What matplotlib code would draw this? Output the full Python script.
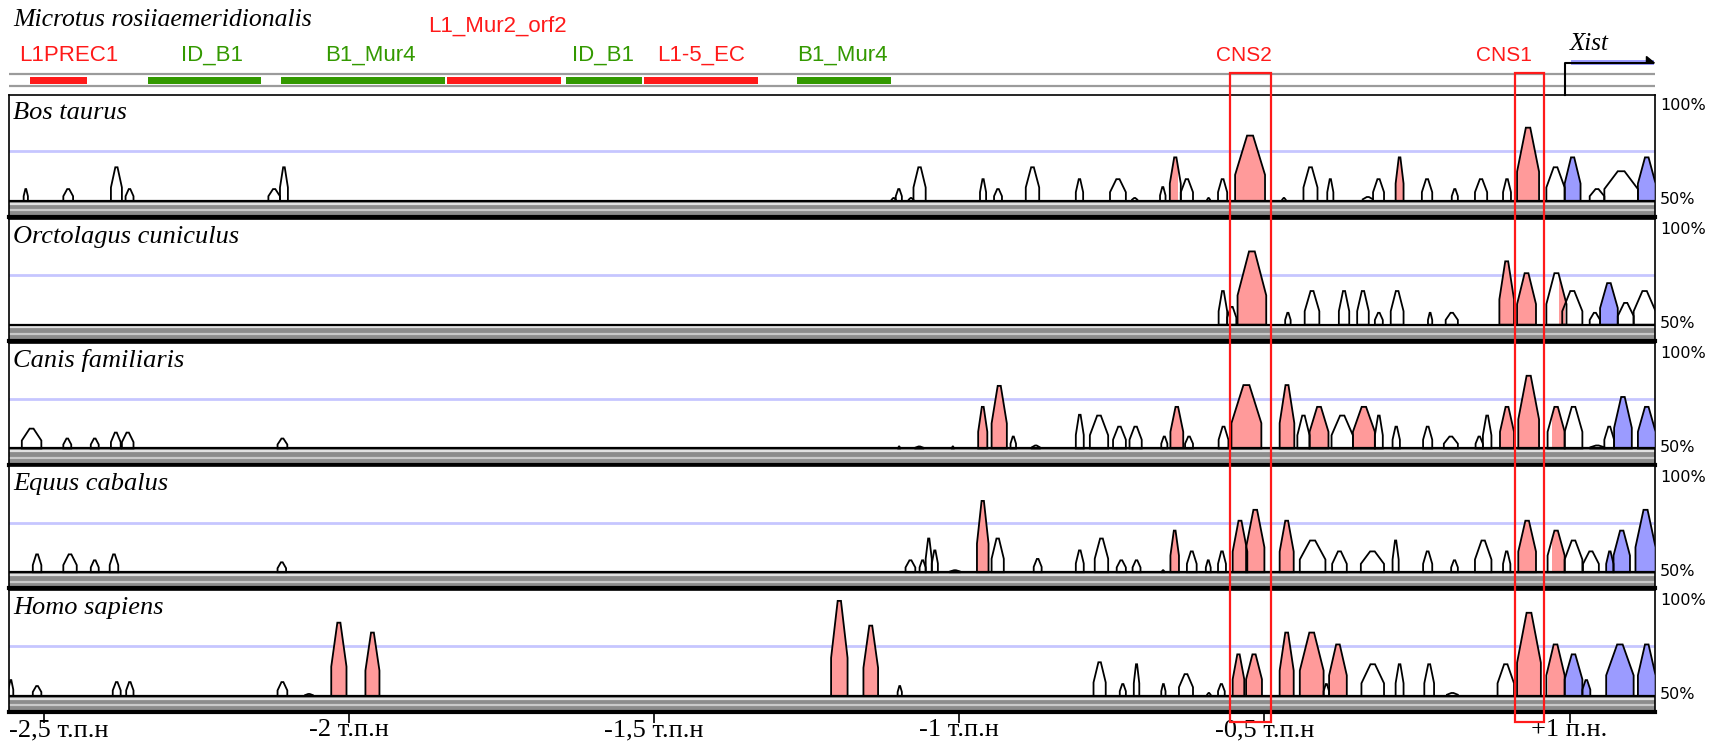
import matplotlib
matplotlib.use('Agg')
import matplotlib.pyplot as plt
from matplotlib.patches import Polygon, Rectangle
import matplotlib.transforms as mtransforms

# ---- data (positions in kb relative to Xist +1, heights in % identity) ----
species = ['Bos taurus', 'Orctolagus cuniculus', 'Canis familiaris',
           'Equus cabalus', 'Homo sapiens']

bos_peaks = [(-2.533, -2.526, 56), (-2.468, -2.452, 56), (-2.390, -2.372, 67), (-2.366, -2.353, 56),
             (-2.132, -2.113, 56), (-2.113, -2.100, 67), (-1.111, -1.104, 51.5), (-1.104, -1.094, 56),
             (-1.083, -1.075, 51.5), (-1.075, -1.055, 67), (-0.966, -0.956, 61), (-0.943, -0.930, 56),
             (-0.891, -0.869, 67), (-0.809, -0.797, 61), (-0.753, -0.727, 61), (-0.717, -0.708, 51.5),
             (-0.671, -0.662, 57), (-0.655, -0.637, 72), (-0.637, -0.617, 61), (-0.594, -0.589, 51.5),
             (-0.576, -0.561, 61), (-0.548, -0.499, 83), (-0.471, -0.465, 51.5), (-0.436, -0.413, 67),
             (-0.397, -0.387, 61), (-0.339, -0.322, 52), (-0.322, -0.304, 61), (-0.285, -0.272, 72),
             (-0.242, -0.225, 61), (-0.193, -0.183, 56), (-0.155, -0.135, 61), (-0.109, -0.096, 61),
             (-0.086, -0.050, 87), (-0.038, -0.008, 67), (-0.008, 0.018, 72), (0.033, 0.057, 56),
             (0.057, 0.112, 65), (0.112, 0.141, 72)]
bos_pink = [(-0.655, -0.641), (-0.546, -0.500), (-0.285, -0.272), (-0.085, -0.051)]
bos_blue = [(-0.008, 0.017), (0.113, 0.141)]

ory_peaks = [(-0.575, -0.561, 67), (-0.561, -0.546, 59), (-0.544, -0.497, 87), (-0.466, -0.457, 56),
             (-0.434, -0.410, 67), (-0.378, -0.361, 67), (-0.348, -0.329, 67), (-0.319, -0.306, 56),
             (-0.293, -0.272, 67), (-0.232, -0.225, 56), (-0.203, -0.183, 56), (-0.115, -0.091, 82),
             (-0.086, -0.055, 76), (-0.038, -0.005, 76), (-0.012, 0.021, 67), (0.033, 0.050, 56),
             (0.050, 0.079, 71), (0.079, 0.105, 61), (0.105, 0.141, 67)]
ory_pink = [(-0.544, -0.497), (-0.115, -0.091), (-0.086, -0.055), (-0.018, -0.008)]
ory_blue = [(0.050, 0.079)]

can_peaks = [(-2.536, -2.504, 60), (-2.468, -2.455, 55), (-2.423, -2.410, 55), (-2.390, -2.374, 58),
             (-2.372, -2.353, 58), (-2.117, -2.101, 55), (-1.100, -1.097, 51), (-1.072, -1.059, 51),
             (-1.012, -1.009, 51), (-0.969, -0.954, 71), (-0.947, -0.922, 81.6), (-0.916, -0.907, 56),
             (-0.881, -0.868, 51.5), (-0.809, -0.796, 67), (-0.786, -0.756, 66.6), (-0.748, -0.727, 61),
             (-0.721, -0.701, 61), (-0.669, -0.659, 56), (-0.654, -0.633, 71), (-0.630, -0.617, 56),
             (-0.575, -0.559, 61), (-0.554, -0.505, 82), (-0.475, -0.451, 82), (-0.446, -0.426, 66.6),
             (-0.426, -0.395, 71), (-0.390, -0.355, 66.6), (-0.355, -0.319, 71), (-0.319, -0.306, 66.6),
             (-0.290, -0.278, 61), (-0.240, -0.225, 61), (-0.206, -0.183, 56), (-0.154, -0.142, 56),
             (-0.142, -0.128, 66.6), (-0.114, -0.091, 71), (-0.084, -0.050, 86.7), (-0.036, -0.008, 71),
             (-0.008, 0.021, 71), (0.034, 0.057, 51.5), (0.057, 0.073, 61), (0.073, 0.102, 76),
             (0.112, 0.141, 71)]
can_pink = [(-0.969, -0.954), (-0.947, -0.922), (-0.654, -0.633), (-0.554, -0.505), (-0.475, -0.451),
            (-0.426, -0.395), (-0.355, -0.319), (-0.114, -0.091), (-0.084, -0.050), (-0.028, -0.008)]
can_blue = [(0.073, 0.102), (0.112, 0.141)]

equ_peaks = [(-2.518, -2.504, 59), (-2.468, -2.446, 59), (-2.423, -2.410, 56), (-2.392, -2.378, 59),
             (-2.117, -2.103, 55), (-1.088, -1.072, 56), (-1.065, -1.055, 56), (-1.055, -1.045, 67),
             (-1.045, -1.035, 61), (-1.015, -0.999, 51), (-0.971, -0.952, 86), (-0.947, -0.927, 67),
             (-0.878, -0.865, 56.7), (-0.809, -0.796, 61), (-0.778, -0.756, 67), (-0.742, -0.727, 56),
             (-0.716, -0.703, 56), (-0.668, -0.664, 51), (-0.654, -0.640, 71), (-0.627, -0.611, 60.5),
             (-0.596, -0.588, 56), (-0.576, -0.563, 60.5), (-0.552, -0.528, 76), (-0.530, -0.500, 81.5),
             (-0.475, -0.452, 76), (-0.442, -0.400, 66), (-0.389, -0.365, 60.5), (-0.342, -0.304, 60.5),
             (-0.290, -0.280, 66), (-0.240, -0.225, 60.5), (-0.194, -0.183, 56), (-0.155, -0.128, 66),
             (-0.109, -0.097, 60.5), (-0.084, -0.055, 76), (-0.036, -0.008, 71), (-0.008, 0.021, 66),
             (0.022, 0.048, 60.5), (0.060, 0.072, 60.5), (0.072, 0.099, 71), (0.108, 0.141, 81.5)]
equ_pink = [(-0.971, -0.952), (-0.654, -0.640), (-0.552, -0.500), (-0.475, -0.452), (-0.084, -0.055),
            (-0.028, -0.008)]
equ_blue = [(0.060, 0.099), (0.108, 0.141)]

hom_peaks = [(-2.558, -2.550, 58), (-2.518, -2.504, 55), (-2.387, -2.374, 57), (-2.365, -2.353, 57),
             (-2.117, -2.101, 57), (-2.072, -2.059, 51), (-2.029, -2.004, 87), (-1.973, -1.950, 82),
             (-1.210, -1.183, 98), (-1.157, -1.133, 85.5), (-1.101, -1.094, 55), (-0.780, -0.760, 67),
             (-0.737, -0.727, 56), (-0.714, -0.705, 66), (-0.669, -0.662, 56), (-0.640, -0.617, 61),
             (-0.594, -0.588, 51.5), (-0.576, -0.565, 56), (-0.552, -0.533, 71), (-0.530, -0.504, 71),
             (-0.475, -0.452, 82), (-0.442, -0.403, 82), (-0.403, -0.394, 56), (-0.394, -0.365, 76),
             (-0.341, -0.304, 66), (-0.285, -0.272, 66), (-0.238, -0.222, 66), (-0.201, -0.183, 51.5),
             (-0.118, -0.091, 66), (-0.086, -0.047, 92), (-0.038, -0.008, 76), (-0.008, 0.021, 71),
             (0.021, 0.034, 58), (0.060, 0.105, 76), (0.112, 0.141, 76)]
hom_pink = [(-2.029, -2.004), (-1.973, -1.950), (-1.210, -1.183), (-1.157, -1.133), (-0.552, -0.533),
            (-0.530, -0.504), (-0.475, -0.452), (-0.442, -0.403), (-0.394, -0.365), (-0.086, -0.047),
            (-0.036, -0.008)]
hom_blue = [(-0.008, 0.034), (0.060, 0.105), (0.112, 0.141)]

all_peaks = [bos_peaks, ory_peaks, can_peaks, equ_peaks, hom_peaks]
all_pink = [bos_pink, ory_pink, can_pink, equ_pink, hom_pink]
all_blue = [bos_blue, ory_blue, can_blue, equ_blue, hom_blue]

# repeats in the Microtus sequence
rep_names = ['L1PREC1', 'ID_B1', 'B1_Mur4', 'L1_Mur2_orf2', 'ID_B1', 'L1-5_EC', 'B1_Mur4']
rep_start = [-2.523, -2.329, -2.111, -1.840, -1.645, -1.516, -1.266]
rep_end = [-2.429, -2.144, -1.843, -1.652, -1.520, -1.330, -1.112]
rep_type = ['LINE', 'SINE', 'SINE', 'LINE', 'SINE', 'LINE', 'SINE']
rep_label_x = [-2.459, -2.225, -1.965, -1.757, -1.584, -1.423, -1.191]

cns_names = ['CNS2', 'CNS1']
cns_start = [-0.556, -0.090]
cns_end = [-0.489, -0.042]
cns_label_x = [-0.534, -0.108]

tick_pos = [-2.5, -2.0, -1.5, -1.0, -0.5, 0.0]
tick_lab = ['-2,5 т.п.н', '-2 т.п.н', '-1,5 т.п.н', '-1 т.п.н', '-0,5 т.п.н', '+1 п.н.']

# ---- style ----
W, H = 1721, 753
xlim = (-2.557, 0.140)
PINK = '#ff9a9a'
BLUE = '#9b9bff'
RED = '#ff1a1a'
GREEN = '#339900'
serif = ['Liberation Serif', 'DejaVu Serif']
sans = ['Liberation Sans', 'DejaVu Sans']

fig = plt.figure(figsize=(W / 100, H / 100), dpi=100)


def px_rect(left, top, width, height):
    return [left / W, 1 - (top + height) / H, width / W, height / H]


def peak_shape(s, e, h):
    w = e - s
    k = 50 + 0.4 * (h - 50)
    return [(s, 50), (s, k), (s + 0.4 * w, h), (e - 0.4 * w, h), (e, k), (e, 50)]


axes = []
for i, name in enumerate(species):
    ax = fig.add_axes(px_rect(9, 95 + 123.75 * i, 1646, 122))
    ax.set_xlim(xlim)
    ax.set_ylim(41.9, 103.5)
    ax.set_xticks([])
    ax.set_yticks([])
    for sp in ax.spines.values():
        sp.set_linewidth(1.2)
    ax.spines['bottom'].set_linewidth(3)

    # grey band under baseline
    ax.axhspan(41.9, 50, color='#8c8c8c', lw=0, zorder=1)
    ax.axhline(48.6, color='#e2e2e2', lw=1.6, zorder=1)
    ax.axhline(45.2, color='#c9c9c9', lw=1.6, zorder=1)
    ax.axhline(75, color='#c6c6ff', lw=2, zorder=1)

    polys = []
    for s, e, h in all_peaks[i]:
        p = Polygon(peak_shape(s, e, h), closed=True, fc='white', ec='none', zorder=2)
        ax.add_patch(p)
        polys.append((s, e, h, p))
    for spans, col in [(all_pink[i], PINK), (all_blue[i], BLUE)]:
        for a, b in spans:
            for s, e, h, p in polys:
                lo, hi = max(a, s), min(b, e)
                if hi > lo:
                    r = Rectangle((lo, 50), hi - lo, h - 50, fc=col, ec='none', zorder=3)
                    ax.add_patch(r)
                    r.set_clip_path(p)
    for s, e, h in all_peaks[i]:
        ax.add_patch(Polygon(peak_shape(s, e, h), closed=True, fill=False, ec='black',
                             lw=1.3, zorder=4))
    ax.axhline(50, color='black', lw=1.6, zorder=5)

    ax.text(0.0025, 0.852, name, transform=ax.transAxes, family=serif, style='italic',
            fontsize=19, va='center', ha='left')
    tr = mtransforms.blended_transform_factory(ax.transAxes, ax.transData)
    ax.text(1.003, 98, '100%', transform=tr, fontsize=11.5, va='center', ha='left')
    ax.text(1.003, 50.5, '50%', transform=tr, fontsize=11.5, va='center', ha='left')
    axes.append(ax)

# x axis on the last panel
ax = axes[-1]
ax.set_xticks(tick_pos)
ax.set_xticklabels([])
ax.tick_params(axis='x', direction='out', length=8, width=1.2)
xt = ax.get_xaxis_transform()
for t, lab in zip(tick_pos, tick_lab):
    if t == tick_pos[0]:
        ax.text(xlim[0], -0.148, lab, transform=xt, family=serif, fontsize=19,
                ha='left', va='center')
    else:
        ax.text(t, -0.148, lab, transform=xt, family=serif, fontsize=19,
                ha='center', va='center')

# overlay for the annotation track, CNS boxes and Xist
ov = fig.add_axes([9 / W, 0, 1646 / W, 1])
ov.set_xlim(xlim)
ov.set_ylim(H, 0)
ov.axis('off')

ov.hlines([74, 86], xlim[0], xlim[1], color='#9b9b9b', lw=1.6)
rep_col = [RED if t == 'LINE' else GREEN for t in rep_type]
ov.barh(80, [e - s for s, e in zip(rep_start, rep_end)], left=rep_start, height=7,
        color=rep_col)
for name, x, t in zip(rep_names, rep_label_x, rep_type):
    y = 26 if name == 'L1_Mur2_orf2' else 55
    ov.text(x, y, name, family=sans, fontsize=16, color=RED if t == 'LINE' else GREEN,
            ha='center', va='center')

for name, s, e, lx in zip(cns_names, cns_start, cns_end, cns_label_x):
    ov.add_patch(Rectangle((s, 73), e - s, 722 - 73, fill=False, ec=RED, lw=1.6, zorder=6))
    ov.text(lx, 55, name, family=sans, fontsize=15, color=RED, ha='center', va='center')

# Xist start arrow
ov.barh(62.5, 0.136, left=0.002, height=5, color=BLUE, zorder=4)
ov.plot([-0.008, -0.008, 0.136], [95, 63, 63], color='black', lw=1.5, zorder=5)
ov.add_patch(Polygon([(0.126, 56.5), (0.139, 63), (0.126, 63)], closed=True, fc='black',
                     ec='black', zorder=5))
ov.text(0.0, 44, 'Xist', family=serif, style='italic', fontsize=18, ha='left', va='center')

fig.text(13 / W, 1 - 20 / H, 'Microtus rosiiaemeridionalis', family=serif, style='italic',
         fontsize=18.5, ha='left', va='center')

fig.savefig('out.png', dpi=100)
